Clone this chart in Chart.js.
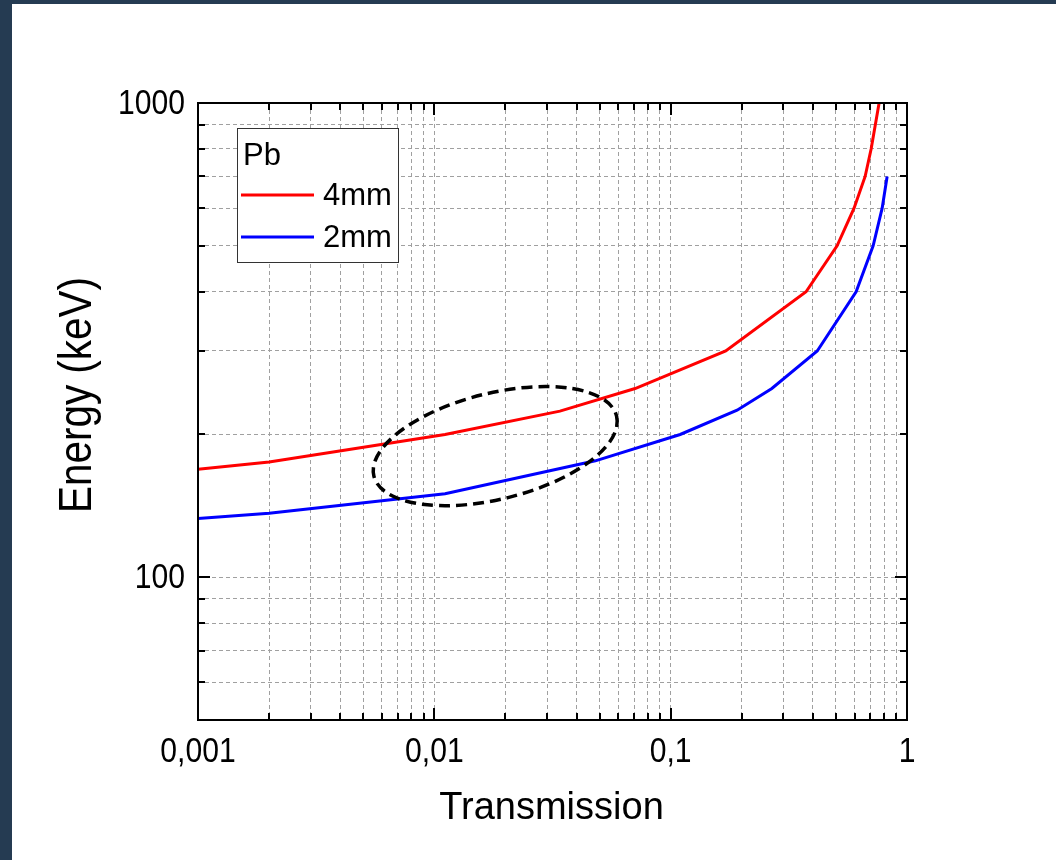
<!DOCTYPE html>
<html>
<head>
<meta charset="utf-8">
<script src="https://cdn.jsdelivr.net/npm/chart.js@4"></script>
<style>
  html, body { margin: 0; padding: 0; background: #253b52; }
  #wrap { position: absolute; left: 12px; top: 4px; width: 1044px; height: 856px; background: #fff; }
</style>
</head>
<body>
<div id="wrap"><canvas id="chart" width="1044" height="856"></canvas></div>
<script>
// Pb transmission vs photon energy
const pb4Transmission = [0.001, 0.002, 0.0111, 0.034, 0.0707, 0.171, 0.374, 0.506, 0.597, 0.665, 0.705, 0.762];
const pb4Energy       = [169, 175, 200, 224, 250, 300, 400, 500, 600, 700, 800, 1000];
const pb2Transmission = [0.001, 0.002, 0.0111, 0.048, 0.1097, 0.191, 0.268, 0.417, 0.609, 0.719, 0.785, 0.824];
const pb2Energy       = [133, 136.5, 150, 176, 200, 225, 250, 300, 400, 500, 600, 700];

const seriesLabels = ['4mm', '2mm'];
const legendTitle = 'Pb';

// axis ticks
const xRange = [0.001, 1];
const xMajorTicks = [0.001, 0.01, 0.1, 1];
const xTickLabels = ['0,001', '0,01', '0,1', '1'];
const yRange = [50, 1000];
const yMajorTicks = [100, 1000];
const yTickLabels = ['100', '1000'];

// highlighted region (transmission, keV)
const ringCenter = [0.0181, 189];

const FONT = '"Liberation Sans", Arial, sans-serif';
const SQUEEZE = 0.86; // labels in the original are a bit narrow

function logTicks(min, max, majors) {
    const out = [];
    for (let e = Math.floor(Math.log10(min)); e <= Math.ceil(Math.log10(max)); e++) {
        for (let m = 1; m < 10; m++) {
            const v = +(m * Math.pow(10, e)).toPrecision(6);
            if (v >= min * 0.999 && v <= max * 1.001) out.push({ value: v, major: majors.includes(v) });
        }
    }
    return out;
}

function toPoints(xs, ys) {
    return xs.map((x, i) => ({ x: x, y: ys[i] }));
}

// narrow text, optionally rotated
function squeezedText(ctx, text, x, y, size, align, angle) {
    ctx.save();
    ctx.translate(x, y);
    if (angle) ctx.rotate(angle);
    ctx.scale(SQUEEZE, 1);
    ctx.font = size + 'px ' + FONT;
    ctx.textAlign = align;
    ctx.textBaseline = 'alphabetic';
    ctx.fillText(text, 0, 0);
    ctx.restore();
}

// inner ticks on all four sides, frame, labels, titles, legend
const framePlugin = {
    id: 'frame',
    afterDraw(chart) {
        const { ctx, chartArea: a, scales } = chart;
        const x = scales.x, y = scales.y;
        ctx.save();
        ctx.strokeStyle = '#000';
        ctx.lineWidth = 2;
        ctx.beginPath();
        x.ticks.forEach(t => {
            const px = Math.round(x.getPixelForValue(t.value));
            const len = t.major ? 12 : 7;
            ctx.moveTo(px, a.bottom); ctx.lineTo(px, a.bottom - len);
            ctx.moveTo(px, a.top); ctx.lineTo(px, a.top + len);
        });
        y.ticks.forEach(t => {
            const py = Math.round(y.getPixelForValue(t.value));
            const len = t.major ? 12 : 7;
            ctx.moveTo(a.left, py); ctx.lineTo(a.left + len, py);
            ctx.moveTo(a.right, py); ctx.lineTo(a.right - len, py);
        });
        ctx.stroke();
        ctx.strokeRect(a.left, a.top, a.right - a.left, a.bottom - a.top);

        // tick labels
        ctx.fillStyle = '#000';
        xMajorTicks.forEach((v, i) => {
            squeezedText(ctx, xTickLabels[i], x.getPixelForValue(v), a.bottom + 42, 35, 'center');
        });
        yMajorTicks.forEach((v, i) => {
            squeezedText(ctx, yTickLabels[i], a.left - 13, y.getPixelForValue(v) + 11, 35, 'right');
        });

        // axis titles
        ctx.font = '38px ' + FONT;
        ctx.textAlign = 'center';
        ctx.textBaseline = 'alphabetic';
        ctx.fillText('Transmission', (a.left + a.right) / 2 - 1, 815);
        squeezedText(ctx, 'Energy (keV)', 79, 391, 47, 'center', -Math.PI / 2);

        // legend box
        const lx = 225, ly = 124, lw = 161, lh = 134;
        ctx.fillStyle = '#fff';
        ctx.fillRect(lx, ly, lw, lh);
        ctx.strokeStyle = '#333';
        ctx.lineWidth = 1;
        ctx.strokeRect(lx + 0.5, ly + 0.5, lw, lh);
        ctx.fillStyle = '#000';
        ctx.font = '31px ' + FONT;
        ctx.textAlign = 'left';
        ctx.textBaseline = 'alphabetic';
        ctx.fillText(legendTitle, lx + 6, ly + 37);
        chart.data.datasets.forEach((ds, i) => {
            const cy = ly + 67 + i * 42;
            ctx.strokeStyle = ds.borderColor;
            ctx.lineWidth = 3;
            ctx.beginPath();
            ctx.moveTo(lx + 4, cy);
            ctx.lineTo(lx + 77, cy);
            ctx.stroke();
            ctx.textBaseline = 'middle';
            ctx.fillText(ds.label, lx + 86, cy + 1);
        });
        ctx.restore();
    }
};

// dashed ellipse marking the region of interest
const ringPlugin = {
    id: 'ring',
    afterDatasetsDraw(chart) {
        const { ctx, scales } = chart;
        const cx = scales.x.getPixelForValue(ringCenter[0]);
        const cy = scales.y.getPixelForValue(ringCenter[1]);
        ctx.save();
        ctx.strokeStyle = '#000';
        ctx.lineWidth = 3.5;
        ctx.setLineDash([11, 6]);
        ctx.beginPath();
        ctx.ellipse(cx, cy, 125, 53, -13.9 * Math.PI / 180, 0, Math.PI * 2);
        ctx.stroke();
        ctx.restore();
    }
};

const ctx = document.getElementById('chart').getContext('2d');
const chart = new Chart(ctx, {
    type: 'line',
    data: {
        datasets: [{
            label: seriesLabels[0],
            data: toPoints(pb4Transmission, pb4Energy),
            borderColor: '#ff0000',
            borderWidth: 3,
            pointRadius: 0,
            tension: 0
        }, {
            label: seriesLabels[1],
            data: toPoints(pb2Transmission, pb2Energy),
            borderColor: '#0000ff',
            borderWidth: 3,
            pointRadius: 0,
            tension: 0
        }]
    },
    options: {
        responsive: false,
        animation: false,
        devicePixelRatio: 1,
        layout: { padding: { top: 99, right: 149, left: 0, bottom: 0 } },
        plugins: {
            legend: { display: false },
            tooltip: { enabled: false }
        },
        scales: {
            x: {
                type: 'logarithmic',
                min: xRange[0],
                max: xRange[1],
                afterBuildTicks: s => { s.ticks = logTicks(xRange[0], xRange[1], xMajorTicks); },
                afterFit: s => { s.height = 140; },
                grid: { color: '#a0a0a0', lineWidth: 1, drawTicks: false },
                border: { display: false, dash: [4, 3] },
                ticks: { display: false, autoSkip: false }
            },
            y: {
                type: 'logarithmic',
                min: yRange[0],
                max: yRange[1],
                afterBuildTicks: s => { s.ticks = logTicks(yRange[0], yRange[1], yMajorTicks); },
                afterFit: s => { s.width = 186; },
                grid: { color: '#a0a0a0', lineWidth: 1, drawTicks: false },
                border: { display: false, dash: [4, 3] },
                ticks: { display: false, autoSkip: false }
            }
        }
    },
    plugins: [ringPlugin, framePlugin]
});
</script>
</body>
</html>
